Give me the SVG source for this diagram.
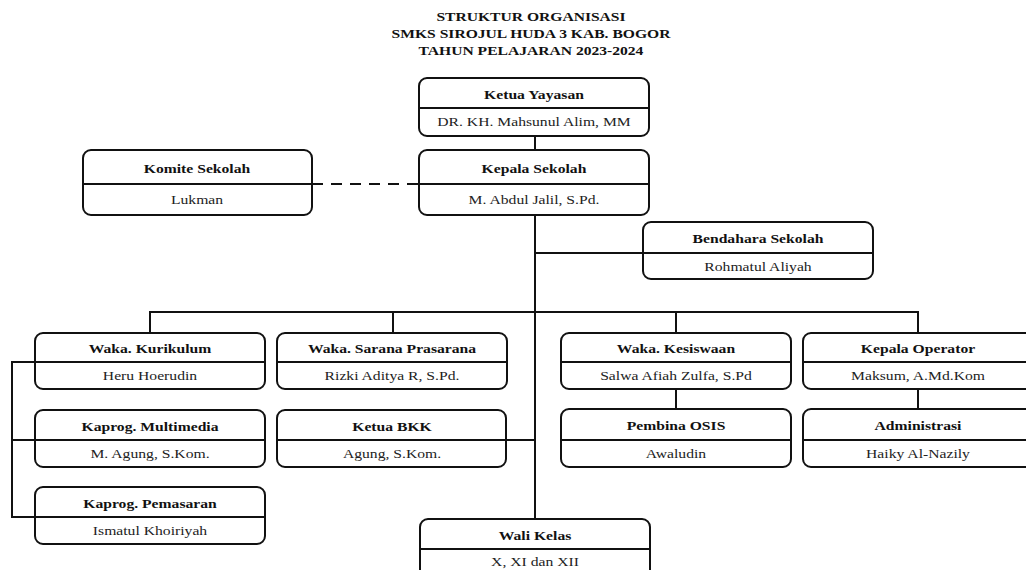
<svg xmlns="http://www.w3.org/2000/svg" width="1026" height="570" viewBox="0 0 1026 570">
<style>
.bx{fill:#fff;stroke:#111;stroke-width:2}
.dv{stroke:#111;stroke-width:2}
.ln{fill:none;stroke:#111;stroke-width:2}
.t{font-family:"Liberation Serif","Times New Roman",serif;font-size:13.5px;font-weight:bold;fill:#111;text-anchor:middle}
.n{font-family:"Liberation Serif","Times New Roman",serif;font-size:13.5px;fill:#222;text-anchor:middle}
.h{font-family:"Liberation Serif","Times New Roman",serif;font-size:13px;font-weight:bold;fill:#111;text-anchor:middle}
</style>
<rect width="1026" height="570" fill="#fff"/>
<g id="title">
<text class="h" transform="translate(531 20.5) scale(1.2 1)">STRUKTUR ORGANISASI</text>
<text class="h" transform="translate(531 37.5) scale(1.2 1)">SMKS SIROJUL HUDA 3 KAB. BOGOR</text>
<text class="h" transform="translate(531 54.5) scale(1.2 1)">TAHUN PELAJARAN 2023-2024</text>
</g>
<g id="connectors">
<path class="ln" d="M535 136V150"/>
<path class="ln" d="M312 184H419" stroke-dasharray="11 8"/>
<path class="ln" d="M535 215V519"/>
<path class="ln" d="M535 253H643"/>
<path class="ln" d="M150 333V312H918V333"/>
<path class="ln" d="M393 312V333"/>
<path class="ln" d="M676 312V333"/>
<path class="ln" d="M676 389V409"/>
<path class="ln" d="M918 389V409"/>
<path class="ln" d="M506 440H535"/>
<path class="ln" d="M35 362H12V517H35"/>
<path class="ln" d="M12 440H35"/>
</g>
<g id="ketua-yayasan">
<rect class="bx" x="419" y="78" width="230" height="58" rx="8"/>
<line class="dv" x1="419" y1="108" x2="649" y2="108"/>
<text class="t" transform="translate(534 99) scale(1.16 1)">Ketua Yayasan</text>
<text class="n" transform="translate(534 126) scale(1.16 1)">DR. KH. Mahsunul Alim, MM</text>
</g>
<g id="komite-sekolah">
<rect class="bx" x="83" y="150" width="229" height="65" rx="8"/>
<line class="dv" x1="83" y1="184" x2="312" y2="184"/>
<text class="t" transform="translate(197 173) scale(1.16 1)">Komite Sekolah</text>
<text class="n" transform="translate(197 204) scale(1.16 1)">Lukman</text>
</g>
<g id="kepala-sekolah">
<rect class="bx" x="419" y="150" width="230" height="65" rx="8"/>
<line class="dv" x1="419" y1="184" x2="649" y2="184"/>
<text class="t" transform="translate(534 173) scale(1.16 1)">Kepala Sekolah</text>
<text class="n" transform="translate(534 204) scale(1.16 1)">M. Abdul Jalil, S.Pd.</text>
</g>
<g id="bendahara-sekolah">
<rect class="bx" x="643" y="222" width="230" height="57" rx="8"/>
<line class="dv" x1="643" y1="253" x2="873" y2="253"/>
<text class="t" transform="translate(758 243) scale(1.16 1)">Bendahara Sekolah</text>
<text class="n" transform="translate(758 271) scale(1.16 1)">Rohmatul Aliyah</text>
</g>
<g id="waka-kurikulum">
<rect class="bx" x="35" y="333" width="230" height="56" rx="8"/>
<line class="dv" x1="35" y1="362" x2="265" y2="362"/>
<text class="t" transform="translate(150 353) scale(1.16 1)">Waka. Kurikulum</text>
<text class="n" transform="translate(150 380) scale(1.16 1)">Heru Hoerudin</text>
</g>
<g id="waka-sarana">
<rect class="bx" x="277" y="333" width="230" height="56" rx="8"/>
<line class="dv" x1="277" y1="362" x2="507" y2="362"/>
<text class="t" transform="translate(392 353) scale(1.16 1)">Waka. Sarana Prasarana</text>
<text class="n" transform="translate(392 380) scale(1.16 1)">Rizki Aditya R, S.Pd.</text>
</g>
<g id="waka-kesiswaan">
<rect class="bx" x="561" y="333" width="230" height="56" rx="8"/>
<line class="dv" x1="561" y1="362" x2="791" y2="362"/>
<text class="t" transform="translate(676 353) scale(1.16 1)">Waka. Kesiswaan</text>
<text class="n" transform="translate(676 380) scale(1.16 1)">Salwa Afiah Zulfa, S.Pd</text>
</g>
<g id="kepala-operator">
<rect class="bx" x="803" y="333" width="230" height="56" rx="8"/>
<line class="dv" x1="803" y1="362" x2="1033" y2="362"/>
<text class="t" transform="translate(918 353) scale(1.16 1)">Kepala Operator</text>
<text class="n" transform="translate(918 380) scale(1.16 1)">Maksum, A.Md.Kom</text>
</g>
<g id="kaprog-multimedia">
<rect class="bx" x="35" y="410" width="230" height="57" rx="8"/>
<line class="dv" x1="35" y1="440" x2="265" y2="440"/>
<text class="t" transform="translate(150 431) scale(1.16 1)">Kaprog. Multimedia</text>
<text class="n" transform="translate(150 458) scale(1.16 1)">M. Agung, S.Kom.</text>
</g>
<g id="ketua-bkk">
<rect class="bx" x="277" y="410" width="229" height="57" rx="8"/>
<line class="dv" x1="277" y1="440" x2="506" y2="440"/>
<text class="t" transform="translate(392 431) scale(1.16 1)">Ketua BKK</text>
<text class="n" transform="translate(392 458) scale(1.16 1)">Agung, S.Kom.</text>
</g>
<g id="pembina-osis">
<rect class="bx" x="561" y="409" width="230" height="58" rx="8"/>
<line class="dv" x1="561" y1="440" x2="791" y2="440"/>
<text class="t" transform="translate(676 430) scale(1.16 1)">Pembina OSIS</text>
<text class="n" transform="translate(676 458) scale(1.16 1)">Awaludin</text>
</g>
<g id="administrasi">
<rect class="bx" x="803" y="409" width="230" height="58" rx="8"/>
<line class="dv" x1="803" y1="440" x2="1033" y2="440"/>
<text class="t" transform="translate(918 430) scale(1.16 1)">Administrasi</text>
<text class="n" transform="translate(918 458) scale(1.16 1)">Haiky Al-Nazily</text>
</g>
<g id="kaprog-pemasaran">
<rect class="bx" x="35" y="487" width="230" height="57" rx="8"/>
<line class="dv" x1="35" y1="517" x2="265" y2="517"/>
<text class="t" transform="translate(150 508) scale(1.16 1)">Kaprog. Pemasaran</text>
<text class="n" transform="translate(150 535) scale(1.16 1)">Ismatul Khoiriyah</text>
</g>
<g id="wali-kelas">
<rect class="bx" x="420" y="519" width="230" height="60" rx="8"/>
<line class="dv" x1="420" y1="549" x2="650" y2="549"/>
<text class="t" transform="translate(535 540) scale(1.16 1)">Wali Kelas</text>
<text class="n" transform="translate(535 566) scale(1.16 1)">X, XI dan XII</text>
</g>
</svg>
